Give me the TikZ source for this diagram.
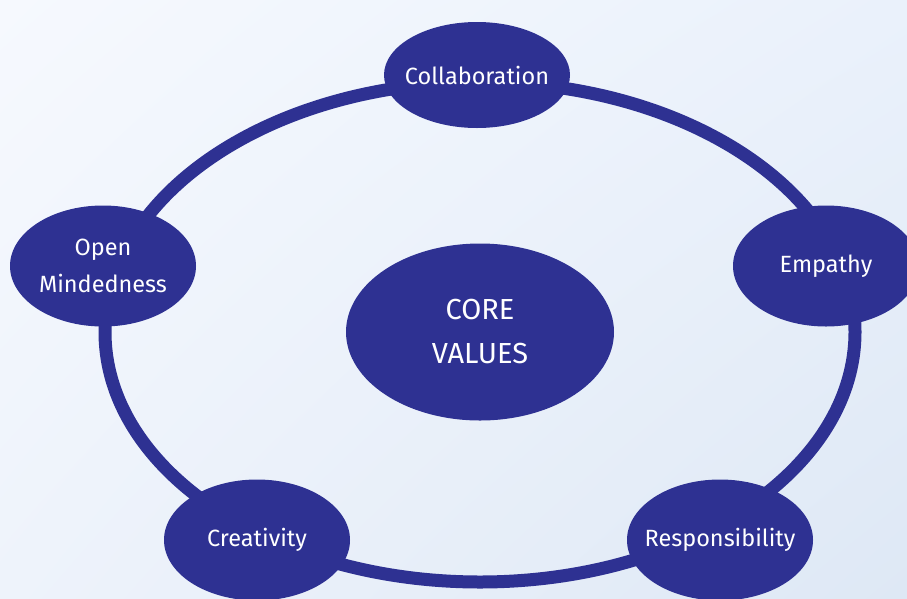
\documentclass[tikz,border=0pt]{standalone}
\usepackage{fontspec}
\setmainfont{Fira Sans}
\usetikzlibrary{shapes.geometric,shadings}
\definecolor{navy}{HTML}{2E3192}
\definecolor{bgTL}{HTML}{F6F9FE}
\definecolor{bgTR}{HTML}{EAF1FB}
\definecolor{bgBL}{HTML}{EEF3FB}
\definecolor{bgBR}{HTML}{DEE8F5}
\tikzset{
  value/.style={ellipse, fill=navy, text=white, minimum width=186pt, minimum height=121pt,
    inner xsep=-30pt, inner ysep=-20pt, align=center, font=\fontsize{23.5}{37}\selectfont},
  corenode/.style={ellipse, fill=navy, text=white, minimum width=268pt, minimum height=177pt,
    inner xsep=-20pt, inner ysep=-20pt, align=center, font=\fontsize{29}{44}\selectfont},
  ringshape/.style={ellipse, draw=navy, line width=13pt, minimum width=750pt, minimum height=500pt, inner sep=0pt}
}
\begin{document}
\begin{tikzpicture}[x=1pt,y=-1pt]
\useasboundingbox (0,0) rectangle (907,598);
\shade[upper left=bgTL, upper right=bgTR, lower left=bgBL, lower right=bgBR] (0,0) rectangle (907,598);
\node[ringshape] (ring) at (480,332) {};
\node[corenode] (core) at (480,332) {CORE\\VALUES};
\node[value, minimum height=106pt] (collab) at (477,75) {Collaboration};
\node[value] (empathy) at (826,266) {Empathy};
\node[value] (open) at (103,266) {Open\\Mindedness};
\node[value] (creat) at (257,540) {Creativity};
\node[value] (resp) at (720,540) {Responsibility};
\end{tikzpicture}
\end{document}
